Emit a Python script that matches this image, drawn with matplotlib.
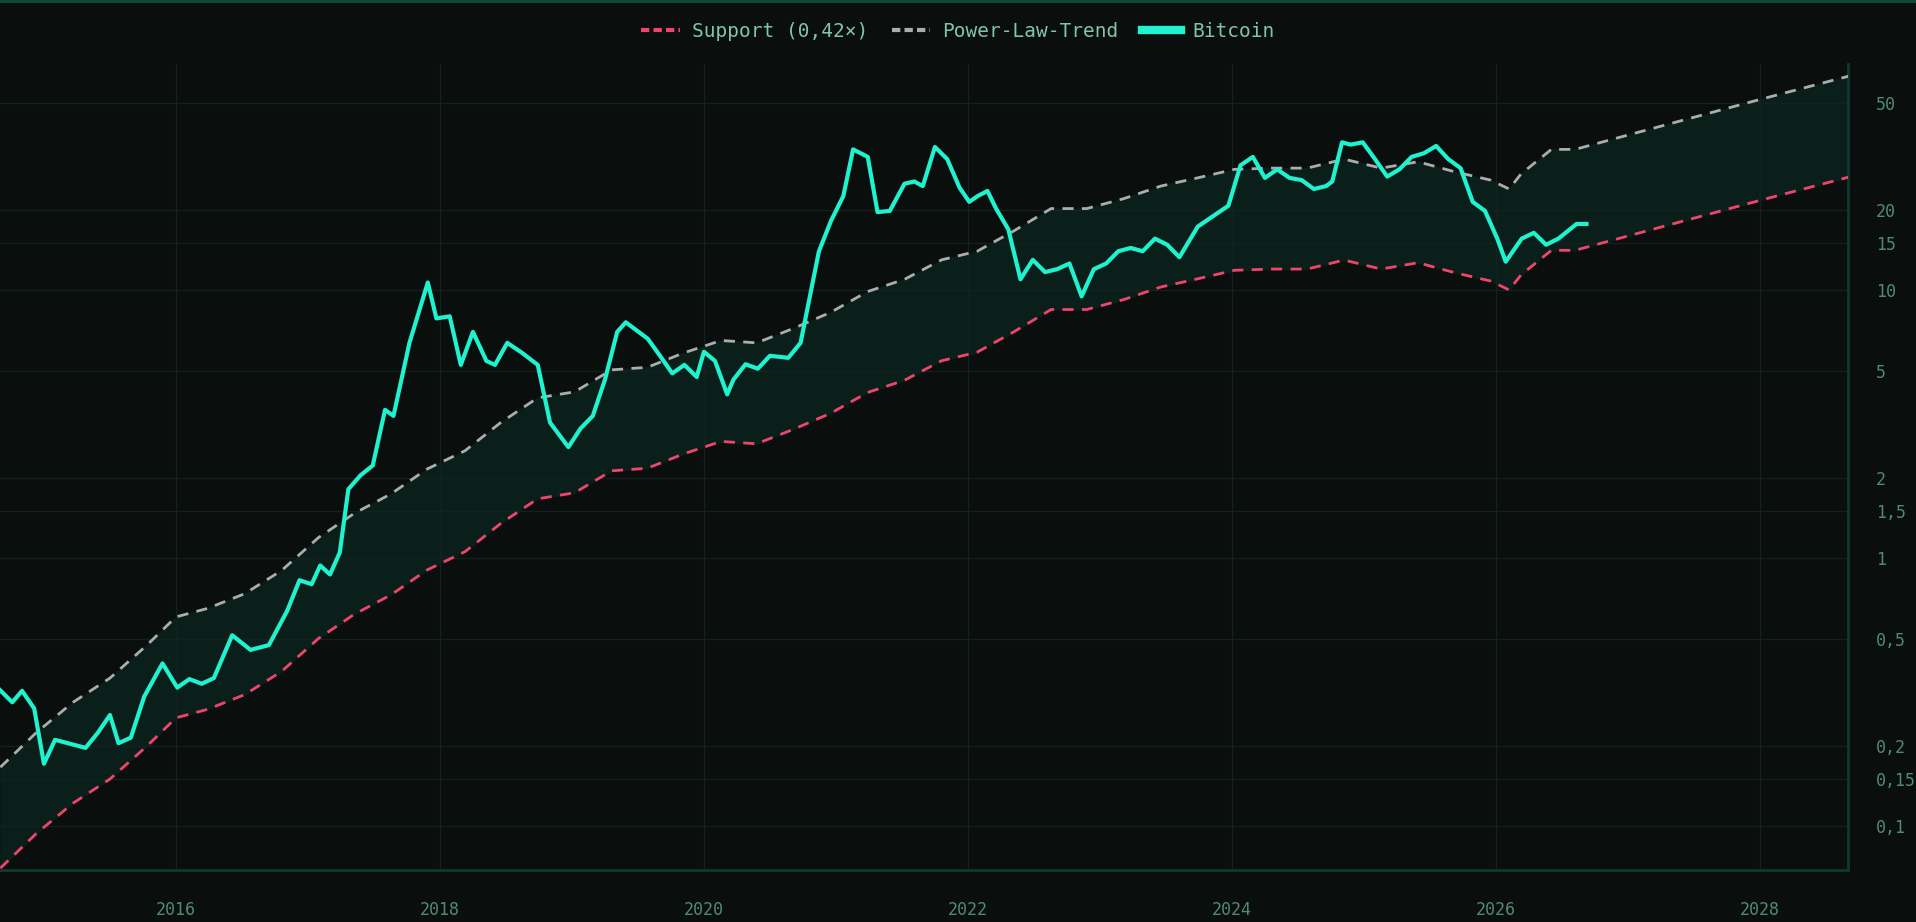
import matplotlib
matplotlib.use("Agg")
import matplotlib.pyplot as plt
import numpy as np
from matplotlib.ticker import FixedLocator, FixedFormatter, NullLocator
from matplotlib.lines import Line2D

trend_years = [2014.67,2014.94,2015.22,2015.5,2015.78,2016.0,2016.24,2016.52,2016.8,2017.08,2017.35,2017.63,2017.9,
               2018.19,2018.46,2018.74,2019.02,2019.3,2019.57,2019.85,2020.13,2020.4,2020.68,2020.96,2021.24,2021.52,
               2021.8,2022.07,2022.35,2022.63,2022.9,2023.18,2023.46,2023.74,2024.02,2024.3,2024.57,2024.85,2025.13,
               2025.41,2025.69,2025.96,2026.1,2026.19,2026.42,2026.6,2027.0,2028.0,2028.67]
trend_vals = [0.166,0.223,0.29,0.357,0.474,0.604,0.65,0.737,0.90,1.195,1.47,1.74,2.15,2.52,3.21,3.97,4.18,5.05,5.16,
              5.85,6.5,6.37,7.22,8.28,9.9,11.0,13.0,14.0,16.7,20.2,20.2,22.0,24.5,26.3,28.3,28.6,28.6,30.9,28.6,30.2,
              27.7,25.8,23.9,27.2,33.6,33.6,38.0,51.6,63.0]
support_factor = 0.42

btc_x = [0,10,18,28,36,45,70,80,90,97,107,118,133,145,155,165,175,190,205,220,235,245,255,262,270,278,285,295,305,315,
         322,335,350,357,368,377,387,398,405,415,427,440,450,465,475,485,495,505,512,530,540,550,560,570,576,585,595,
         600,610,620,630,645,655,670,680,690,698,710,718,728,740,748,755,765,775,785,793,800,808,815,825,835,845,855,
         865,875,885,895,905,915,925,935,945,955,965,980,990,1005,1015,1025,1035,1045,1055,1065,1075,1085,1090,1098,
         1105,1115,1125,1135,1145,1155,1165,1175,1185,1195,1205,1215,1225,1232,1245,1255,1265,1275,1290,1298]
btc_years = [round(2014.667 + v/108, 3) for v in btc_x]
btc_vals = [0.322,0.29,0.32,0.275,0.171,0.21,0.196,0.223,0.26,0.204,0.214,0.305,0.405,0.329,0.354,0.34,0.357,0.516,
            0.455,0.474,0.637,0.828,0.80,0.94,0.87,1.05,1.81,2.04,2.22,3.58,3.4,6.37,10.7,7.86,8.0,5.27,7.0,5.45,5.27,
            6.37,5.85,5.27,3.21,2.6,3.05,3.4,4.64,7.0,7.6,6.6,5.7,4.9,5.27,4.75,5.9,5.45,4.09,4.64,5.3,5.1,5.7,5.6,6.37,
            13.99,18.2,22.5,33.6,31.5,19.6,19.8,25.0,25.5,24.5,34.3,30.9,24.2,21.4,22.5,23.5,20.2,16.9,11.0,13.0,11.7,
            12.0,12.6,9.5,12.0,12.6,14.0,14.4,14.0,15.6,14.8,13.3,17.3,18.6,20.7,29.3,31.5,26.3,28.3,26.3,25.8,23.9,
            24.5,25.5,35.7,35.0,35.7,30.9,26.6,28.3,31.5,32.5,34.6,30.9,28.6,21.4,19.8,15.6,12.8,15.6,16.4,14.8,15.6,
            17.7,17.7]

yticks = [0.1,0.15,0.2,0.5,1,1.5,2,5,10,15,20,50]
ytick_labels = ["0,1","0,15","0,2","0,5","1","1,5","2","5","10","15","20","50"]
xticks = [2016,2018,2020,2022,2024,2026,2028]

BG = "#0a0e0d"
fig = plt.figure(figsize=(19.16, 9.22), dpi=100, facecolor=BG)
ax = fig.add_axes([0.0, 0.0564, 0.9645, 0.8742])
ax.set_facecolor(BG)
ax.set_yscale("log")
ax.set_xlim(2014.667, 2028.667)
ax.set_ylim(0.0686, 70)

tv = np.array(trend_vals)
sv = tv * support_factor
ax.fill_between(trend_years, sv, tv, color="#0b1f1a", zorder=1)
ax.plot(trend_years, sv, color="#f0456a", lw=2, ls=(0, (4, 3)), zorder=3)
ax.plot(trend_years, tv, color="#a9aeac", lw=2, ls=(0, (4, 3)), zorder=3)
ax.plot(btc_years, btc_vals, color="#1ff2cf", lw=3, zorder=4, solid_joinstyle="round")

ax.yaxis.set_major_locator(FixedLocator(yticks))
ax.yaxis.set_major_formatter(FixedFormatter(ytick_labels))
ax.yaxis.set_minor_locator(NullLocator())
ax.yaxis.tick_right()
ax.set_xticks(xticks)
ax.set_xticklabels([str(x) for x in xticks])
ax.tick_params(axis="both", colors="#4f8a78", labelsize=12, length=0)
ax.tick_params(axis="y", pad=20)
ax.tick_params(axis="x", pad=22)
for lab in ax.get_xticklabels() + ax.get_yticklabels():
    lab.set_family("DejaVu Sans Mono")
ax.grid(True, color="#13221e", lw=1)
for s in ["top", "left"]:
    ax.spines[s].set_visible(False)
for s in ["right", "bottom"]:
    ax.spines[s].set_color("#0f3a30")
    ax.spines[s].set_linewidth(2)

handles = [Line2D([], [], color="#f0456a", lw=3, ls=(0, (2, 1))),
           Line2D([], [], color="#a9aeac", lw=3, ls=(0, (2, 1))),
           Line2D([], [], color="#1ff2cf", lw=6)]
leg = fig.legend(handles, ["Support (0,42×)", "Power-Law-Trend", "Bitcoin"], loc="center",
                 bbox_to_anchor=(0.5, 0.966), ncol=3, frameon=False, handlelength=2, columnspacing=1.2,
                 handletextpad=0.6, prop={"family": "DejaVu Sans Mono", "size": 14})
for t in leg.get_texts():
    t.set_color("#7fc4ad")
fig.add_artist(Line2D([0, 1], [0.999, 0.999], color="#0f4a38", lw=3, transform=fig.transFigure))
fig.savefig("out.png", dpi=100, facecolor=BG)
